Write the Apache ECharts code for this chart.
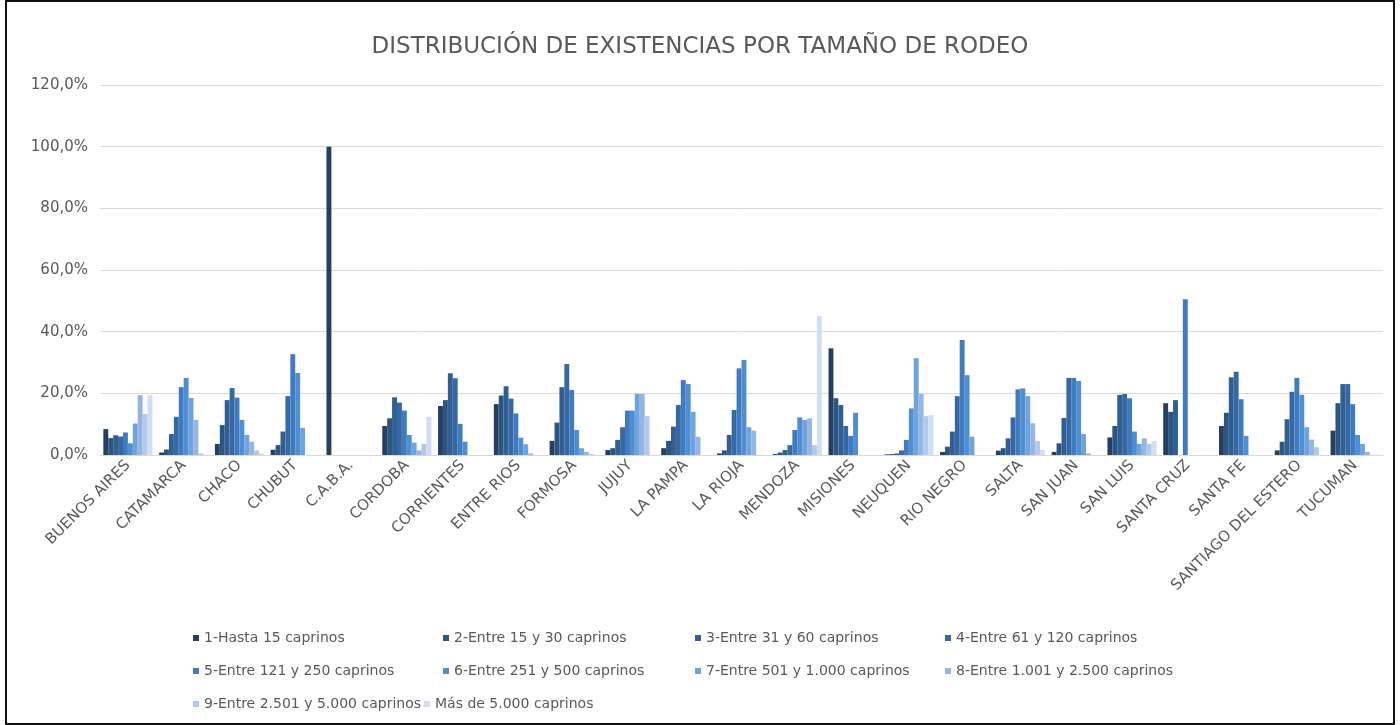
<!DOCTYPE html>
<html>
<head>
<meta charset="utf-8">
<script src="https://cdn.jsdelivr.net/npm/echarts@6/dist/echarts.min.js"></script>
<style>
html,body{margin:0;padding:0;background:#fff;}
#frame{position:absolute;left:5px;top:0px;width:1386px;height:721px;border:2px solid #111;box-sizing:content-box;}
#chart{position:absolute;left:0;top:0;width:1400px;height:725px;}
</style>
</head>
<body>
<div id="frame"></div>
<div id="chart"></div>
<script>
const provinces = ["BUENOS AIRES","CATAMARCA","CHACO","CHUBUT","C.A.B.A.","CORDOBA","CORRIENTES","ENTRE RIOS","FORMOSA","JUJUY","LA PAMPA","LA RIOJA","MENDOZA","MISIONES","NEUQUEN","RIO NEGRO","SALTA","SAN JUAN","SAN LUIS","SANTA CRUZ","SANTA FE","SANTIAGO DEL ESTERO","TUCUMAN"];
const seriesNames = ["1-Hasta 15 caprinos","2-Entre 15 y 30 caprinos","3-Entre 31 y 60 caprinos","4-Entre 61 y 120 caprinos","5-Entre 121 y 250 caprinos","6-Entre 251 y 500 caprinos","7-Entre 501 y 1.000 caprinos","8-Entre 1.001 y 2.500 caprinos","9-Entre 2.501 y 5.000 caprinos","Más de 5.000 caprinos"];
const s1  = [8.4, 0.8, 3.6, 1.7, 100, 9.4, 15.9, 16.5, 4.6, 1.6, 2.2, 0.5, 0.3, 34.6, 0.2, 1.0, 1.4, 1.0, 5.7, 16.8, 9.4, 1.5, 7.9];
const s2  = [5.5, 1.8, 9.7, 3.2, 0, 11.9, 17.8, 19.3, 10.5, 2.2, 4.6, 1.5, 0.8, 18.4, 0.3, 2.7, 2.2, 3.8, 9.4, 14.0, 13.7, 4.3, 16.8];
const s3  = [6.4, 6.8, 17.8, 7.6, 0, 18.7, 26.5, 22.3, 22.0, 4.9, 9.2, 6.5, 1.6, 16.2, 0.5, 7.6, 5.4, 12.0, 19.5, 17.8, 25.2, 11.6, 23.0];
const s4  = [6.0, 12.4, 21.7, 19.1, 0, 17.0, 24.9, 18.3, 29.5, 9.0, 16.2, 14.6, 3.2, 9.4, 1.5, 19.1, 12.2, 25.0, 19.8, 0, 27.0, 20.5, 23.0];
const s5  = [7.3, 22.0, 18.6, 32.7, 0, 14.4, 10.1, 13.5, 21.1, 14.4, 24.3, 28.1, 8.1, 6.2, 4.9, 37.3, 21.3, 25.0, 18.4, 50.5, 18.1, 25.0, 16.5];
const s6  = [3.8, 25.0, 11.4, 26.6, 0, 6.5, 4.3, 5.6, 8.1, 14.4, 23.0, 30.8, 12.2, 13.7, 15.1, 25.9, 21.6, 24.0, 7.6, 0, 6.2, 19.5, 6.5];
const s7  = [10.2, 18.5, 6.5, 8.8, 0, 4.0, 0, 3.5, 2.2, 19.8, 14.0, 9.0, 11.4, 0, 31.4, 5.9, 19.1, 6.8, 3.6, 0, 0, 9.0, 3.6];
const s8  = [19.4, 11.4, 4.3, 0, 0, 1.5, 0, 0.5, 1.0, 19.8, 5.9, 7.9, 11.9, 0, 19.8, 0, 10.3, 0.5, 5.4, 0, 0, 5.0, 1.0];
const s9  = [13.3, 0.5, 1.5, 0, 0, 3.6, 0, 0, 0.3, 12.6, 0, 0, 3.2, 0, 12.6, 0, 4.6, 0, 3.6, 0, 0, 2.5, 0];
const s10 = [19.4, 0, 0.5, 0, 0, 12.4, 0, 0, 0, 0, 0, 0, 45.0, 0, 12.9, 0, 1.6, 0, 4.5, 0, 0, 0, 0];
const allSeries = [s1, s2, s3, s4, s5, s6, s7, s8, s9, s10];

const colors = ["#25405f","#2b5582","#2f5f93","#3668a3","#3f7bc0","#4f8ed3","#6fa3dc","#95b5e3","#b3c9ec","#d0ddf2"];
const legendPos = [[193,631],[443,631],[695,631],[945,631],[193,664],[443,664],[695,664],[945,664],[193,697],[424,697]];

const FONT = "DejaVu Sans";
const chart = echarts.init(document.getElementById('chart'), null, {renderer:'canvas'});
const option = {
  animation:false,
  backgroundColor:'transparent',
  title:{text:'DISTRIBUCIÓN DE EXISTENCIAS POR TAMAÑO DE RODEO', left:'center', top:31,
    textStyle:{fontFamily:FONT, fontSize:23, fontWeight:'normal', color:'#595959'}},
  grid:{left:100, right:17, top:85, bottom:270},
  legend: seriesNames.map((n,i)=>({
    data:[n], left:legendPos[i][0], top:legendPos[i][1], padding:0, icon:'rect', itemWidth:6, itemHeight:6, itemGap:4,
    textStyle:{fontFamily:FONT, fontSize:14, color:'#595959'}
  })),
  xAxis:{type:'category', data:provinces,
    axisLine:{lineStyle:{color:'#d9d9d9'}}, axisTick:{show:false},
    axisLabel:{interval:0, rotate:45, fontFamily:FONT, fontSize:15, color:'#595959', margin:8}},
  yAxis:{type:'value', min:0, max:120, interval:20,
    axisLine:{show:false}, axisTick:{show:false},
    splitLine:{lineStyle:{color:'#d9d9d9', width:1}},
    axisLabel:{fontFamily:FONT, fontSize:15, color:'#595959', margin:12,
      formatter:v=>v.toFixed(1).replace('.',',')+'%'}},
  series: allSeries.map((d,i)=>({
    name:seriesNames[i], type:'bar', data:d, barGap:'0%', barCategoryGap:'12%',
    itemStyle:{color:colors[i]}
  }))
};
chart.setOption(option);
</script>
</body>
</html>
